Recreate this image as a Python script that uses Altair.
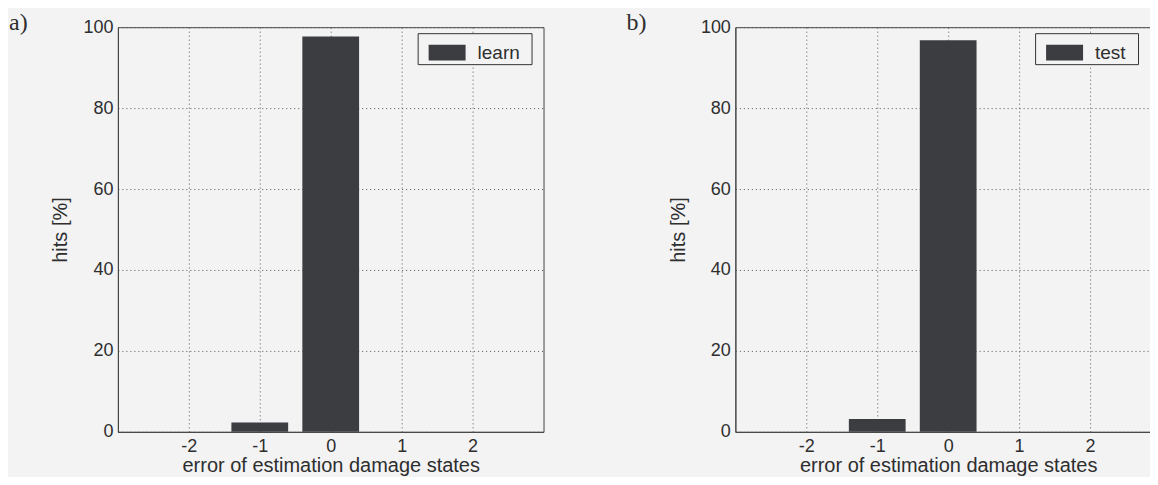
import altair as alt
import pandas as pd

# ---- data ----
errors = [-2, -1, 0, 1, 2]
learn_hits = [0.0, 2.3, 97.7, 0.0, 0.0]
test_hits = [0.0, 3.2, 96.8, 0.0, 0.0]
series_names = ["learn", "test"]
panel_labels = ["a)", "b)"]
x_ticks = [-2, -1, 0, 1, 2]
y_ticks = [0, 20, 40, 60, 80, 100]
x_title = "error of estimation damage states"
y_title = "hits [%]"

# ---- style ----
W, H = 426, 405
BAR = "#3b3d41"
INK = "#2e2e2e"
BG = "#f3f3f4"
SANS = "Liberation Sans"
SERIF = "Liberation Serif"
legend_path = "M-1,-0.43H1V0.43H-1Z"
hyphen_labels = "datum.value < 0 ? '-' + abs(datum.value) : '' + datum.value"


def panel(values, name, label):
    df = pd.DataFrame({"err": errors, "hits": values, "set": [name] * len(errors)})
    bars = (
        alt.Chart(df)
        .transform_calculate(x0="datum.err - 0.4", x1="datum.err + 0.4")
        .mark_bar(strokeWidth=0)
        .encode(
            x=alt.X(
                "x0:Q",
                scale=alt.Scale(domain=[-3, 3], nice=False, zero=False),
                axis=alt.Axis(
                    values=x_ticks, title=x_title, labelExpr=hyphen_labels,
                    labelPadding=6, titlePadding=0,
                ),
            ),
            x2="x1:Q",
            y=alt.Y(
                "hits:Q",
                scale=alt.Scale(domain=[0, 100], nice=False),
                axis=alt.Axis(
                    values=y_ticks, title=y_title, labelExpr=hyphen_labels,
                    labelPadding=5, titlePadding=12,
                ),
            ),
            y2=alt.datum(0),
            color=alt.Color(
                "set:N",
                scale=alt.Scale(range=[BAR]),
                legend=alt.Legend(
                    title=".", titleOrient="right", titleColor=BG,
                    titleFontSize=10, titlePadding=8,
                    orient="none", legendX=300, legendY=6,
                    direction="vertical",
                    padding=1, strokeColor="#333333", fillColor=BG,
                    symbolType=legend_path, symbolSize=1369, symbolOffset=10,
                    symbolStrokeWidth=0, symbolOpacity=1,
                    labelFont=SANS, labelFontSize=19, labelColor=INK,
                    labelOffset=12,
                ),
            ),
        )
    )
    lab = (
        alt.Chart(pd.DataFrame({"t": [label]}))
        .mark_text(font=SERIF, fontSize=24, align="left", baseline="alphabetic", color=INK)
        .encode(x=alt.value(-109), y=alt.value(3), text="t:N")
    )
    return alt.layer(bars, lab).properties(width=W, height=H)


pa = panel(learn_hits, series_names[0], panel_labels[0])
pb = panel(test_hits, series_names[1], panel_labels[1])

chart = (
    alt.hconcat(pa, pb, spacing=192, bounds="flush")
    .resolve_scale(color="independent")
    .resolve_legend(color="independent")
    .configure_view(stroke="#444444", strokeWidth=1)
    .configure_axis(
        grid=True, gridDash=[1, 3], gridColor="#555555", gridWidth=1,
        domainColor="#444444", ticks=False,
        labelFont=SANS, labelFontSize=18, labelColor=INK,
        titleFont=SANS, titleFontSize=20, titleFontWeight="normal", titleColor=INK,
    )
    .properties(background=BG, padding={"left": 0, "top": 2, "right": -12, "bottom": 0})
)

chart.save("out.html", embed_options={"renderer": "svg", "actions": False})
